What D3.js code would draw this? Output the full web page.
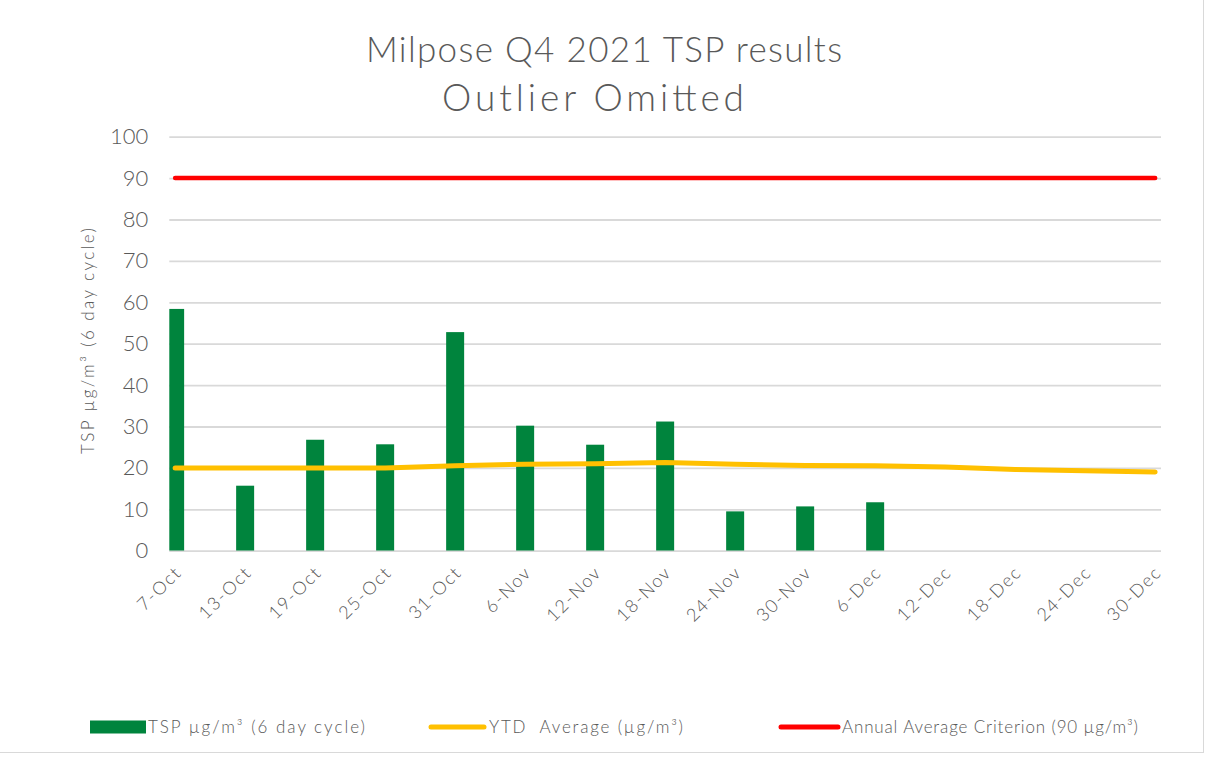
<!DOCTYPE html>
<html>
<head>
<meta charset="utf-8">
<script src="https://cdn.jsdelivr.net/npm/d3@7/dist/d3.min.js"></script>
<style>
  html, body { margin: 0; padding: 0; background: #fff; }
  svg { display: block; }
  text { font-family: "Century Gothic", "Lato", sans-serif; font-weight: 300; fill: #595959; }
</style>
</head>
<body>
<svg id="chart" width="1205" height="757"></svg>
<script>
// Sampling dates (6 day cycle), Q4 2021
const categories = ["7-Oct", "13-Oct", "19-Oct", "25-Oct", "31-Oct", "6-Nov", "12-Nov",
  "18-Nov", "24-Nov", "30-Nov", "6-Dec", "12-Dec", "18-Dec", "24-Dec", "30-Dec"];

// TSP µg/m³ per sample (no samples after 6-Dec)
const tspValues = [58.4, 15.7, 26.8, 25.7, 52.8, 30.2, 25.6, 31.2, 9.5, 10.7, 11.7,
  null, null, null, null];

// Year-to-date running average
const ytdValues = [20.0, 20.0, 20.0, 20.0, 20.5, 20.9, 21.0, 21.3, 20.9, 20.6, 20.5,
  20.2, 19.6, 19.3, 19.0];

// Annual average criterion
const criterionValues = categories.map(() => 90);

const yTicks = [0, 10, 20, 30, 40, 50, 60, 70, 80, 90, 100];

const svg = d3.select("#chart");

// outer chart border
svg.append("rect")
  .attr("x", -1).attr("y", -1)
  .attr("width", 1204.5).attr("height", 753.5)
  .attr("fill", "#fff").attr("stroke", "#d9d9d9").attr("stroke-width", 1);

const plot = { left: 169.3, right: 1161, top: 136.7, bottom: 550.7 };

const x = d3.scalePoint()
  .domain(categories)
  .range([plot.left, plot.right])
  .padding(1 / 12);

const y = d3.scaleLinear()
  .domain([0, 100])
  .range([plot.bottom, plot.top]);

// title
const title = svg.append("text")
  .attr("text-anchor", "middle");
title.append("tspan").attr("x", 604).attr("y", 62)
  .attr("font-size", 35)
  .attr("textLength", 476).attr("lengthAdjust", "spacing")
  .text("Milpose Q4 2021 TSP results");
title.append("tspan").attr("x", 593).attr("y", 111)
  .attr("font-size", 37)
  .attr("textLength", 302).attr("lengthAdjust", "spacing")
  .text("Outlier Omitted");

// gridlines + y tick labels
const yAxis = d3.axisLeft(y)
  .tickValues(yTicks)
  .tickSize(-(plot.right - plot.left))
  .tickPadding(21)
  .tickFormat(d3.format("d"));

const gy = svg.append("g")
  .attr("transform", `translate(${plot.left},0)`)
  .call(yAxis);
gy.select(".domain").remove();
gy.selectAll(".tick line")
  .attr("stroke", "#d9d9d9")
  .attr("stroke-width", 1.8);
gy.selectAll(".tick text")
  .attr("font-size", 22)
  .attr("font-family", null)
  .style("fill", "#595959");

// y axis title
svg.append("text")
  .attr("transform", `translate(94,341) rotate(-90)`)
  .attr("text-anchor", "middle")
  .attr("font-size", 17)
  .attr("textLength", 226).attr("lengthAdjust", "spacing")
  .text("TSP µg/m³ (6 day cycle)");

// x axis labels, rotated
const gx = svg.append("g")
  .attr("transform", `translate(0,${plot.bottom})`)
  .call(d3.axisBottom(x).tickSize(0).tickPadding(0));
gx.select(".domain").remove();
gx.selectAll(".tick text")
  .attr("font-size", 18)
  .attr("font-family", null)
  .style("fill", "#595959")
  .style("letter-spacing", "1.6px")
  .attr("text-anchor", "end")
  .attr("dy", null)
  .attr("y", 0)
  .attr("transform", "translate(7,23) rotate(-45)");

// bars clipped to the plot area
svg.append("clipPath").attr("id", "plotClip")
  .append("rect")
  .attr("x", plot.left).attr("y", plot.top - 10)
  .attr("width", plot.right - plot.left).attr("height", plot.bottom - plot.top + 10);

const barW = 18;
svg.append("g")
  .attr("clip-path", "url(#plotClip)")
  .selectAll("rect")
  .data(categories.map((c, i) => ({ c, v: tspValues[i] })).filter(d => d.v != null))
  .join("rect")
  .attr("x", d => x(d.c) - barW / 2)
  .attr("y", d => y(d.v))
  .attr("width", barW)
  .attr("height", d => y(0) - y(d.v))
  .attr("fill", "#00843d");

// lines
const line = d3.line()
  .x((d, i) => x(categories[i]))
  .y(d => y(d));

svg.append("path")
  .datum(ytdValues)
  .attr("d", line)
  .attr("fill", "none")
  .attr("stroke", "#ffc000")
  .attr("stroke-width", 5)
  .attr("stroke-linecap", "round")
  .attr("stroke-linejoin", "round");

svg.append("path")
  .datum(criterionValues)
  .attr("d", line)
  .attr("fill", "none")
  .attr("stroke", "#ff0000")
  .attr("stroke-width", 4.5)
  .attr("stroke-linecap", "round")
  .attr("stroke-linejoin", "round");

// legend
const legend = svg.append("g");
legend.append("rect")
  .attr("x", 90).attr("y", 720.5).attr("width", 56).attr("height", 13)
  .attr("fill", "#00843d");
legend.append("text").attr("x", 148).attr("y", 733).attr("font-size", 17)
  .attr("textLength", 217).attr("lengthAdjust", "spacing")
  .text("TSP µg/m³ (6 day cycle)");

legend.append("line")
  .attr("x1", 431).attr("x2", 484).attr("y1", 727).attr("y2", 727)
  .attr("stroke", "#ffc000").attr("stroke-width", 5).attr("stroke-linecap", "round");
legend.append("text").attr("x", 489).attr("y", 733).attr("font-size", 17)
  .attr("xml:space", "preserve")
  .attr("textLength", 194).attr("lengthAdjust", "spacing")
  .text("YTD  Average (µg/m³)");

legend.append("line")
  .attr("x1", 781).attr("x2", 838).attr("y1", 727).attr("y2", 727)
  .attr("stroke", "#ff0000").attr("stroke-width", 5).attr("stroke-linecap", "round");
legend.append("text").attr("x", 842).attr("y", 733).attr("font-size", 17)
  .attr("textLength", 296).attr("lengthAdjust", "spacing")
  .text("Annual Average Criterion (90 µg/m³)");
</script>
</body>
</html>
